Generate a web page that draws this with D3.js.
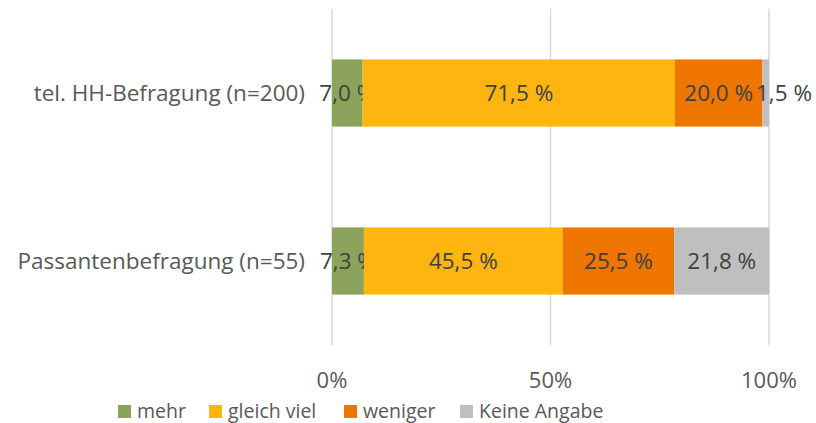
<!DOCTYPE html>
<html>
<head>
<meta charset="utf-8">
<script src="https://cdn.jsdelivr.net/npm/d3@7"></script>
<style>
  body { margin: 0; background: #fff; }
  svg { display: block; font-family: "Open Sans", "Noto Sans", sans-serif; }
</style>
</head>
<body>
<svg></svg>
<script>
const categories = ['tel. HH-Befragung (n=200)', 'Passantenbefragung (n=55)']
const seriesNames = ['mehr', 'gleich viel', 'weniger', 'Keine Angabe']
const seriesColors = ['#8BA35B', '#FFB50F', '#EE7600', '#BFBFBF']
const mehr = [7.0, 7.3]
const gleichViel = [71.5, 45.5]
const weniger = [20.0, 25.5]
const keineAngabe = [1.5, 21.8]
const tickValues = [0, 50, 100]

const width = 816
const height = 423
const margin = {top: 9, right: 47, bottom: 78, left: 332}

const svg = d3.select('svg')
  .attr('width', width)
  .attr('height', height)

const x = d3.scaleLinear()
  .domain([0, 100])
  .range([margin.left, width - margin.right])

const y = d3.scaleBand()
  .domain(categories)
  .range([margin.top, height - margin.bottom])
  .paddingInner(0.6)
  .paddingOuter(0.3)

const color = d3.scaleOrdinal()
  .domain(seriesNames)
  .range(seriesColors)

const rows = categories.map((c, i) => ({
  category: c,
  'mehr': mehr[i],
  'gleich viel': gleichViel[i],
  'weniger': weniger[i],
  'Keine Angabe': keineAngabe[i]
}))

const stacked = d3.stack().keys(seriesNames)(rows)

// gridlines
svg.append('g')
  .selectAll('line')
  .data(tickValues)
  .enter()
  .append('line')
  .attr('x1', d => x(d))
  .attr('x2', d => x(d))
  .attr('y1', margin.top)
  .attr('y2', height - margin.bottom)
  .attr('stroke', '#D9D9D9')
  .attr('stroke-width', 1.5)

// bars
const layers = svg.append('g')
  .selectAll('g')
  .data(stacked)
  .enter()
  .append('g')
  .attr('fill', d => color(d.key))

layers.selectAll('rect')
  .data(d => d)
  .enter()
  .append('rect')
  .attr('x', d => x(d[0]))
  .attr('width', d => x(d[1]) - x(d[0]))
  .attr('y', d => y(d.data.category))
  .attr('height', y.bandwidth())

// data labels
const fmt = v => v.toFixed(1).replace('.', ',') + ' %'
layers.selectAll('text')
  .data(d => d.map(p => ({p, key: d.key})))
  .enter()
  .append('text')
  .attr('x', d => {
    const w = x(d.p[1]) - x(d.p[0])
    // narrow last segment: label pushed outside like Excel does
    if (w < 20 && d.key === 'Keine Angabe') return x(d.p[1]) + 15
    return (x(d.p[0]) + x(d.p[1])) / 2
  })
  .attr('y', d => y(d.p.data.category) + y.bandwidth() / 2)
  .attr('dy', '0.35em')
  .attr('text-anchor', 'middle')
  .attr('fill', '#404040')
  .style('font-size', '22.5px')
  .text(d => fmt(d.p[1] - d.p[0]))

// category labels
svg.append('g')
  .selectAll('text')
  .data(categories)
  .enter()
  .append('text')
  .attr('x', margin.left - 27)
  .attr('y', d => y(d) + y.bandwidth() / 2)
  .attr('dy', '0.35em')
  .attr('text-anchor', 'end')
  .attr('fill', '#595959')
  .style('font-size', '22.5px')
  .text(d => d)

// x axis labels
svg.append('g')
  .selectAll('text')
  .data(tickValues)
  .enter()
  .append('text')
  .attr('x', d => x(d))
  .attr('y', 388)
  .attr('text-anchor', 'middle')
  .attr('fill', '#595959')
  .style('font-size', '22px')
  .text(d => d + '%')

// legend
const legendX = [118, 209, 344, 460]
const legend = svg.append('g')
  .selectAll('g')
  .data(seriesNames)
  .enter()
  .append('g')
  .attr('transform', (d, i) => `translate(${legendX[i]},0)`)

legend.append('rect')
  .attr('x', 0)
  .attr('y', 405)
  .attr('width', 13)
  .attr('height', 13)
  .attr('fill', d => color(d))

legend.append('text')
  .attr('x', 19)
  .attr('y', 418)
  .attr('fill', '#595959')
  .style('font-size', '19.5px')
  .text(d => d)
</script>
</body>
</html>
